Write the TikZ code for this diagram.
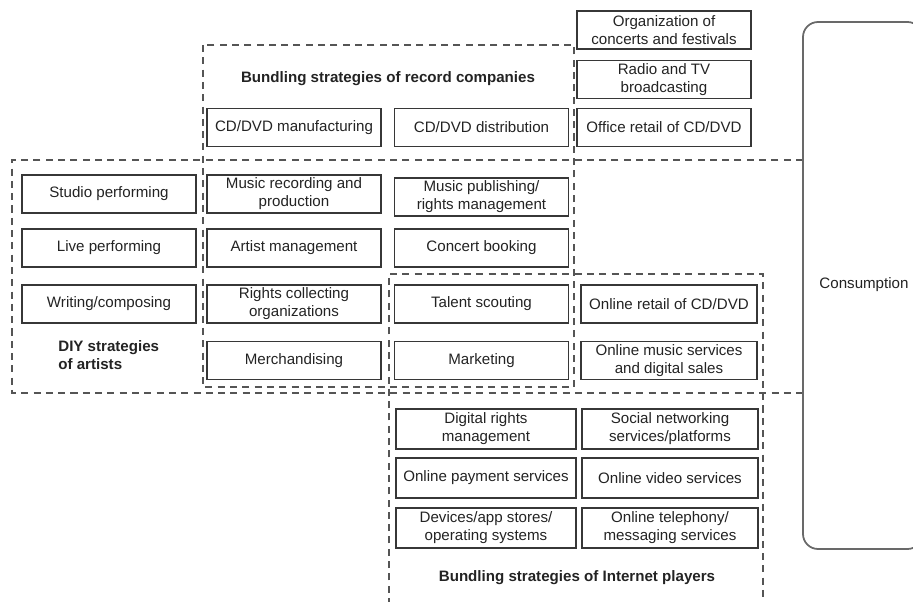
\documentclass[tikz,border=0pt]{standalone}
\usepackage{fontspec}
\setmainfont{Liberation Sans}
\usepackage{tikz}
\usetikzlibrary{positioning, calc}
\definecolor{boxgray}{RGB}{55,55,55}
\definecolor{dashgray}{RGB}{85,85,85}
\definecolor{consgray}{RGB}{105,105,105}
\definecolor{textgray}{RGB}{35,35,35}

\begin{document}
\begin{tikzpicture}[
  actbox/.style={rectangle, draw=boxgray, line width=0.75pt, text=textgray, minimum width=3.48cm, minimum height=0.76cm, align=center, inner sep=1pt, font=\fontsize{8.6}{10.2}\selectfont},
  widebox/.style={actbox, minimum width=3.6cm, minimum height=0.8cm},
  region/.style={draw=dashgray, line width=0.7pt, dash pattern=on 4pt off 3pt},
  grouplabel/.style={font=\fontsize{8.6}{10.2}\selectfont\bfseries, text=textgray}
]
\useasboundingbox (0,0) rectangle (18.26,-12.04);
% artists
\node[actbox] (studio) at (2.18,-3.88) {Studio performing};
\node[actbox] (live) at (2.18,-4.96) {Live performing};
\node[actbox] (writing) at (2.18,-6.08) {Writing/composing};
% record companies
\node[actbox] (manufact) at (5.88,-2.55) {CD/DVD manufacturing};
\node[actbox] (recording) at (5.88,-3.88) {Music recording and\\production};
\node[actbox] (artistmgmt) at (5.88,-4.96) {Artist management};
\node[actbox] (rightscoll) at (5.88,-6.08) {Rights collecting\\organizations};
\node[actbox] (merch) at (5.88,-7.21) {Merchandising};
\node[actbox] (distrib) at (9.63,-2.55) {CD/DVD distribution};
\node[actbox] (publishing) at (9.63,-3.94) {Music publishing/\\rights management};
\node[actbox] (booking) at (9.63,-4.96) {Concert booking};
\node[actbox] (scouting) at (9.63,-6.08) {Talent scouting};
\node[actbox] (marketing) at (9.63,-7.21) {Marketing};
% towards consumption
\node[actbox] (concerts) at (13.28,-0.60) {Organization of\\concerts and festivals};
\node[actbox] (broadcast) at (13.28,-1.59) {Radio and TV\\broadcasting};
\node[actbox] (officeretail) at (13.28,-2.55) {Office retail of CD/DVD};
\node[actbox, minimum width=3.52cm] (onlineretail) at (13.38,-6.08) {Online retail of CD/DVD};
\node[actbox, minimum width=3.52cm] (onlinemusic) at (13.38,-7.21) {Online music services\\and digital sales};
% internet players
\node[widebox] (drm) at (9.72,-8.58) {Digital rights\\management};
\node[widebox] (payment) at (9.72,-9.56) {Online payment services};
\node[widebox] (devices) at (9.72,-10.56) {Devices/app stores/\\operating systems};
\node[widebox, minimum width=3.52cm] (social) at (13.40,-8.58) {Social networking\\services/platforms};
\node[widebox, minimum width=3.52cm] (video) at (13.40,-9.56) {Online video services};
\node[widebox, minimum width=3.52cm] (telephony) at (13.40,-10.56) {Online telephony/\\messaging services};
% groups
\draw[region] (4.06,-0.9) rectangle (11.48,-7.74);
\draw[region] (16.06,-3.2) -- (0.24,-3.2) -- (0.24,-7.86) -- (16.06,-7.86);
\draw[region] (7.78,-12.1) -- (7.78,-5.48) -- (15.26,-5.48) -- (15.26,-12.1);
\node[grouplabel] (recordlabel) at (7.76,-1.58) {Bundling strategies of record companies};
\node[grouplabel, align=left, anchor=west, inner sep=0pt] (diylabel) at (1.16,-7.11) {DIY strategies\\of artists};
\node[grouplabel] (internetlabel) at (11.54,-11.56) {Bundling strategies of Internet players};
% consumption
\draw[consgray, line width=1pt, rounded corners=0.3cm] (16.06,-0.44) rectangle (18.45,-10.98);
\node[text=textgray, font=\fontsize{8.6}{10.2}\selectfont] (consumption) at (17.28,-5.7) {Consumption};
\end{tikzpicture}
\end{document}
